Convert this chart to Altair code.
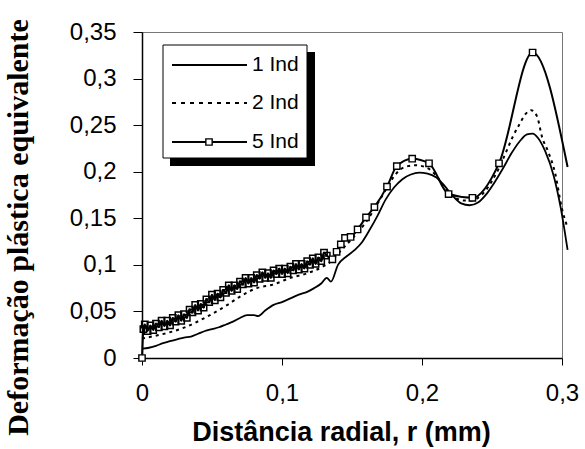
import altair as alt
import pandas as pd

# ---- data ----
x_1ind = [0.000, 0.005, 0.010, 0.015, 0.020, 0.025, 0.030, 0.035, 0.040, 0.045,
          0.050, 0.055, 0.060, 0.065, 0.070, 0.075, 0.080, 0.083, 0.088, 0.094,
          0.100, 0.106, 0.112, 0.118, 0.123, 0.128, 0.132, 0.135, 0.140, 0.146,
          0.152, 0.157, 0.162, 0.168, 0.174, 0.180, 0.186, 0.192, 0.198, 0.204,
          0.210, 0.216, 0.222, 0.228, 0.234, 0.240, 0.246, 0.252, 0.258, 0.264,
          0.270, 0.275, 0.279, 0.283, 0.288, 0.294, 0.299, 0.304]
y_1ind = [0.010, 0.011, 0.013, 0.016, 0.018, 0.020, 0.022, 0.023, 0.026, 0.029,
          0.031, 0.033, 0.036, 0.039, 0.043, 0.046, 0.046, 0.045, 0.051, 0.057,
          0.060, 0.064, 0.068, 0.071, 0.075, 0.080, 0.086, 0.082, 0.100, 0.109,
          0.116, 0.124, 0.136, 0.152, 0.170, 0.183, 0.192, 0.197, 0.199, 0.198,
          0.194, 0.185, 0.174, 0.166, 0.164, 0.167, 0.176, 0.189, 0.204, 0.220,
          0.233, 0.240, 0.241, 0.236, 0.222, 0.196, 0.162, 0.116]

x_2ind = [0.000, 0.013, 0.029, 0.046, 0.061, 0.070, 0.082, 0.094, 0.106, 0.118,
          0.129, 0.136, 0.140, 0.150, 0.160, 0.170, 0.180, 0.185, 0.190, 0.195,
          0.200, 0.205, 0.210, 0.215, 0.220, 0.225, 0.230, 0.235, 0.240, 0.245,
          0.250, 0.255, 0.260, 0.265, 0.270, 0.274, 0.278, 0.282, 0.286, 0.290,
          0.295, 0.300, 0.304]
y_2ind = [0.021, 0.025, 0.032, 0.044, 0.057, 0.066, 0.075, 0.079, 0.086, 0.091,
          0.098, 0.105, 0.112, 0.128, 0.146, 0.170, 0.195, 0.203, 0.206, 0.207,
          0.206, 0.203, 0.196, 0.186, 0.176, 0.171, 0.169, 0.169, 0.172, 0.179,
          0.190, 0.204, 0.221, 0.238, 0.252, 0.262, 0.266, 0.260, 0.236, 0.222,
          0.199, 0.160, 0.140]

x_5ind = [0.000, 0.001, 0.002, 0.004, 0.006, 0.008, 0.010, 0.012, 0.014, 0.016,
          0.018, 0.020, 0.022, 0.024, 0.026, 0.028, 0.030, 0.032, 0.034, 0.036,
          0.038, 0.040, 0.042, 0.044, 0.046, 0.048, 0.050, 0.052, 0.054, 0.056,
          0.058, 0.060, 0.062, 0.064, 0.066, 0.068, 0.070, 0.072, 0.074, 0.076,
          0.078, 0.080, 0.082, 0.084, 0.086, 0.088, 0.090, 0.092, 0.094, 0.096,
          0.098, 0.100, 0.102, 0.104, 0.106, 0.108, 0.110, 0.112, 0.114, 0.116,
          0.118, 0.120, 0.122, 0.124, 0.126, 0.128, 0.130, 0.132,
          0.136, 0.139, 0.142, 0.145, 0.149, 0.154, 0.160, 0.166, 0.175, 0.182,
          0.193, 0.205, 0.219, 0.236, 0.255, 0.279, 0.304]
y_5ind = [0.000, 0.031, 0.036, 0.029, 0.035, 0.030, 0.037, 0.033, 0.040, 0.034,
          0.040, 0.035, 0.043, 0.039, 0.046, 0.040, 0.047, 0.043, 0.052, 0.049,
          0.057, 0.051, 0.058, 0.054, 0.063, 0.060, 0.068, 0.062, 0.069, 0.065,
          0.073, 0.070, 0.078, 0.072, 0.078, 0.074, 0.082, 0.079, 0.086, 0.080,
          0.086, 0.081, 0.089, 0.085, 0.092, 0.086, 0.091, 0.086, 0.094, 0.090,
          0.096, 0.090, 0.096, 0.091, 0.098, 0.094, 0.101, 0.095, 0.101, 0.096,
          0.104, 0.100, 0.107, 0.101, 0.108, 0.104, 0.113, 0.110,
          0.106, 0.114, 0.122, 0.129, 0.130, 0.138, 0.151, 0.162, 0.184, 0.206,
          0.214, 0.209, 0.176, 0.172, 0.209, 0.328, 0.205]

series_labels = ["1 Ind", "2 Ind", "5 Ind"]
x_ticks = [0, 0.1, 0.2, 0.3]
y_ticks = [0, 0.05, 0.1, 0.15, 0.2, 0.25, 0.3, 0.35]

df1 = pd.DataFrame({"x": x_1ind, "y": y_1ind})
df2 = pd.DataFrame({"x": x_2ind, "y": y_2ind})
df5 = pd.DataFrame({"x": x_5ind, "y": y_5ind})

SANS = "Liberation Sans"
SERIF = "Liberation Serif"
label_expr = "replace(format(datum.value, '~g'), '.', ',')"

x_enc = alt.X("x:Q", scale=alt.Scale(domain=[0, 0.3], nice=False),
              axis=alt.Axis(values=x_ticks, labelExpr=label_expr, grid=False,
                            title="Distância radial, r (mm)",
                            titleFont=SANS, titleFontSize=27, titleFontWeight="bold",
                            titleX=199, titleY=82, titleBaseline="alphabetic",
                            labelFont=SANS, labelFontSize=24, labelColor="black",
                            labelBaseline="alphabetic", labelPadding=35,
                            tickSize=7, tickColor="black", domainColor="black",
                            domainWidth=1.5, labelFlush=False))
y_enc = alt.Y("y:Q", scale=alt.Scale(domain=[0, 0.35], nice=False),
              axis=alt.Axis(values=y_ticks, labelExpr=label_expr, grid=False,
                            title="Deformação plástica equivalente",
                            titleFont=SERIF, titleFontSize=30, titleFontWeight="bold",
                            titleX=-124, titleY=195, titleBaseline="middle",
                            titleAlign="center", titleAngle=-90,
                            labelFont=SANS, labelFontSize=24, labelColor="black",
                            labelPadding=17, tickSize=9, tickColor="black",
                            domainColor="black", domainWidth=1.5, labelFlush=False))

line1 = alt.Chart(df1).mark_line(color="black", strokeWidth=1.8, clip=False,
                                 interpolate="monotone").encode(x=x_enc, y=y_enc)
line2 = alt.Chart(df2).mark_line(color="black", strokeWidth=2, strokeDash=[3, 4],
                                 clip=False, interpolate="monotone").encode(x=x_enc, y=y_enc)
line5 = alt.Chart(df5).mark_line(color="black", strokeWidth=2, clip=False,
                                 interpolate="monotone").encode(x=x_enc, y=y_enc)
# densely sampled part: open squares that merge into a dark band
pts5_dense = alt.Chart(df5).transform_filter("datum.x > 0 && datum.x < 0.134").mark_point(
    shape="square", size=40, filled=False, stroke="black",
    strokeWidth=1.5, opacity=1, clip=False).encode(x=x_enc, y=y_enc)
# sparse part: white-filled squares
pts5 = alt.Chart(df5).transform_filter("datum.x == 0 || (datum.x >= 0.134 && datum.x <= 0.3)").mark_point(
    shape="square", size=40, filled=True, fill="white", stroke="black",
    strokeWidth=1.4, opacity=1, clip=False).encode(x=x_enc, y=y_enc)

# ---- legend box (drawn manually) ----
one = pd.DataFrame({"k": [0]})
shadow = alt.Chart(one).mark_rect(color="black").encode(
    x=alt.value(28), x2=alt.value(173), y=alt.value(20), y2=alt.value(134))
box = alt.Chart(one).mark_rect(fill="white", stroke="black", strokeWidth=1).encode(
    x=alt.value(21), x2=alt.value(165), y=alt.value(13), y2=alt.value(126))
leg_rows = [33, 71, 110]
leg_layers = []
for i, (lab, ry) in enumerate(zip(series_labels, leg_rows)):
    kw = {"strokeDash": [4, 5]} if i == 1 else {}
    leg_layers.append(alt.Chart(one).mark_rule(color="black", strokeWidth=2, **kw).encode(
        x=alt.value(30), x2=alt.value(105), y=alt.value(ry)))
    leg_layers.append(alt.Chart(one).mark_text(
        align="left", baseline="middle", font=SANS, fontSize=21, color="black").encode(
        x=alt.value(110), y=alt.value(ry), text=alt.value(lab)))
leg_sq = alt.Chart(one).mark_point(shape="square", size=40, filled=True, fill="white",
                                   stroke="black", strokeWidth=1.4, opacity=1).encode(
    x=alt.value(67), y=alt.value(leg_rows[2]))

chart = alt.layer(line1, line2, line5, pts5_dense, pts5, shadow, box, *leg_layers, leg_sq).properties(
    width=420, height=326,
    padding={"left": 142, "top": 32, "right": 23, "bottom": 91},
    autosize=alt.AutoSizeParams(type="none"),
    background="white",
).configure_view(stroke="#777", strokeWidth=1)

chart.save("out.html", embed_options={"renderer": "svg", "actions": False})
